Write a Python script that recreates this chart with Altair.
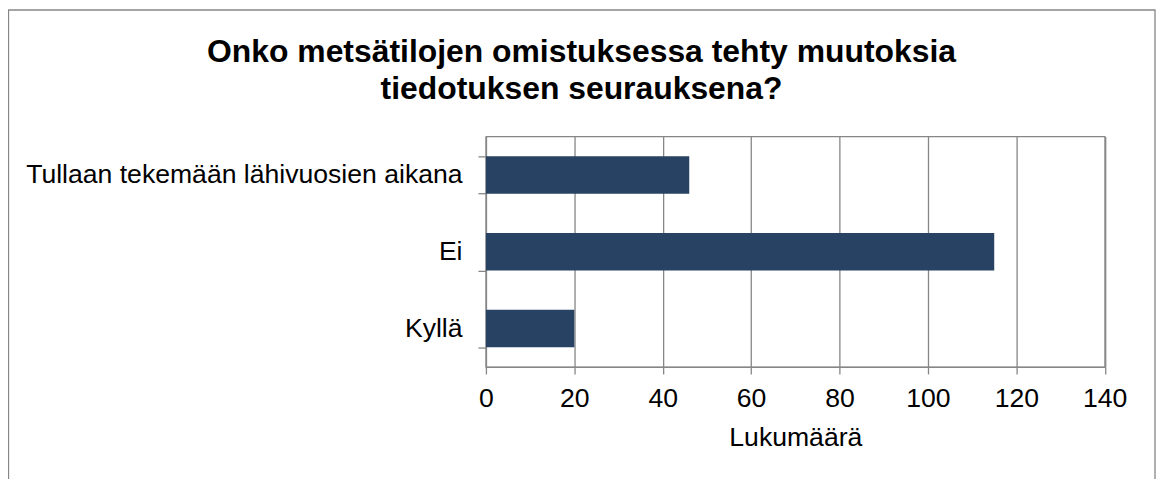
import altair as alt
import pandas as pd

categories = ["Tullaan tekemään lähivuosien aikana", "Ei", "Kyllä"]
counts = [46, 115, 20]
x_ticks = [0, 20, 40, 60, 80, 100, 120, 140]
title_lines = ["Onko metsätilojen omistuksessa tehty muutoksia", "tiedotuksen seurauksena?"]
x_title = "Lukumäärä"

df = pd.DataFrame({"vastaus": categories, "lukumaara": counts})

GRAY = "#868686"
FONT = "Liberation Sans"
LW = 1.3
FS = 26.7

bars = alt.Chart(df).mark_bar(color="#284263").encode(
    x=alt.X(
        "lukumaara:Q",
        scale=alt.Scale(domain=[0, 140], nice=False, zero=True),
        axis=alt.Axis(
            values=x_ticks, title=x_title, grid=True, gridColor=GRAY, gridWidth=LW,
            domainColor=GRAY, domainWidth=LW, tickColor=GRAY, tickWidth=LW, tickSize=7,
            labelFontSize=FS, labelColor="black", labelPadding=12, labelFont=FONT,
            labelFlush=False,
            titleFontSize=FS, titleFont=FONT, titleFontWeight="normal", titleColor="black",
            titleBaseline="alphabetic", titleY=78.4, format="d",
        ),
    ),
    y=alt.Y(
        "vastaus:N",
        sort=categories,
        scale=alt.Scale(paddingInner=0.512, paddingOuter=0.256),
        axis=alt.Axis(
            title=None, tickBand="extent", grid=False,
            domainColor=GRAY, domainWidth=LW, tickColor=GRAY, tickWidth=LW, tickSize=8,
            labelFontSize=FS, labelColor="black", labelPadding=16, labelFont=FONT,
            labelLimit=700,
        ),
    ),
    tooltip=["vastaus", "lukumaara"],
)

border = alt.Chart(pd.DataFrame({"k": [0]})).mark_rect(
    filled=False, stroke=GRAY, strokeWidth=LW
).encode(
    x=alt.value(-479.5), x2=alt.value(672), y=alt.value(-127), y2=alt.value(500)
)

chart = alt.layer(bars, border).properties(
    width=621.5,
    height=231.5,
    padding={"left": 480, "top": 128, "right": 51.5, "bottom": 111.5},
    autosize=alt.AutoSizeParams(type="none"),
    title=alt.TitleParams(
        text=title_lines, fontSize=32, font=FONT, fontWeight="bold", color="black",
        anchor="middle", frame="group", dx=-214.75, offset=0, dy=97, lineHeight=37.5,
    ),
).configure_view(stroke=GRAY, strokeWidth=LW)

chart.save("out.html", embed_options={"renderer": "svg", "actions": False})
